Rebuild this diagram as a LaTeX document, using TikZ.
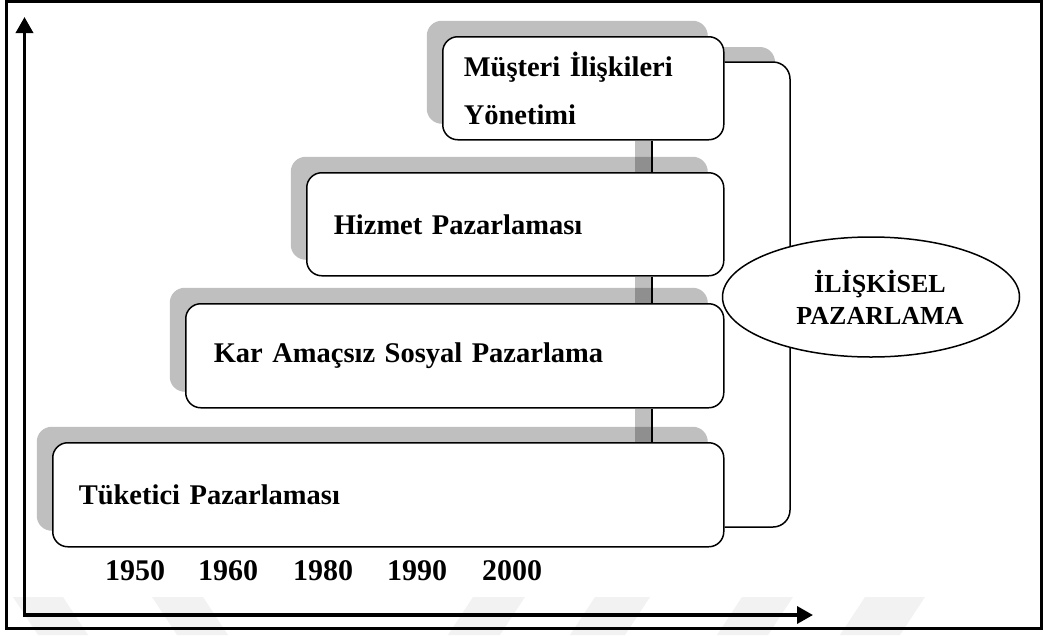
\documentclass[tikz,border=0pt]{standalone}
\usepackage{fontspec}
\setmainfont{Liberation Serif}[BoldFont={Liberation Serif Bold}]
\usetikzlibrary{shapes.geometric, shadows, arrows.meta}
\begin{document}
\begin{tikzpicture}[x=1pt, y=-1pt,
  shadowfill/.style={fill=black, opacity=0.25},
  stage/.style={draw, line width=1.5pt, fill=white, rounded corners=15pt,
    anchor=north west, align=left, inner ysep=0pt,
    font=\bfseries\fontsize{28.5}{48}\selectfont,
    general shadow={shadowfill, shadow xshift=-16pt, shadow yshift=16pt}},
  link/.style={line width=1.5pt},
  linkshadow/.style={draw=black, opacity=0.25, line width=17pt},
  axis/.style={line width=3.5pt,
    {Triangle[length=16pt,width=17pt]}-{Triangle[length=16pt,width=17pt]}},
  year/.style={anchor=base west, inner sep=0pt,
    font=\bfseries\fontsize{30}{36}\selectfont},
  watermark/.style={fill=black!5}]

\useasboundingbox (0,0) rectangle (1044,635);

% faint marks along the bottom edge
\fill[watermark] (13,597) -- (63,597) -- (88,635) -- (38,635) -- cycle;
\fill[watermark] (152,597) -- (203,597) -- (228,635) -- (177,635) -- cycle;
\fill[watermark] (473,597) -- (525,597) -- (500,635) -- (448,635) -- cycle;
\fill[watermark] (595,597) -- (650,597) -- (625,635) -- (570,635) -- cycle;
\fill[watermark] (742,597) -- (793,597) -- (768,635) -- (717,635) -- cycle;
\fill[watermark] (865,597) -- (925,597) -- (900,635) -- (840,635) -- cycle;

% outer frame
\draw[line width=3pt] (6.5,1.5) rectangle (1041.5,628.5);

% time axes
\coordinate (origin) at (24.5,615);
\coordinate (ytip) at (24.5,17);
\coordinate (xtip) at (813,615);
\draw[axis] (ytip) -- (origin) -- (xtip);

% shadow of the right-hand bracket
\fill[shadowfill, rounded corners=15pt] (708,47) rectangle (775,95);
\fill[white] (708,62) rectangle (790,110);

% spine shared by the stage connectors
\coordinate (spine) at (652,0);
\coordinate (spineshadow) at (643,0);

% stages
\node[stage, text width=239pt, inner xsep=21pt, minimum height=103pt]
  (miy) at (442,36) {Müşteri İlişkileri\\Yönetimi};
\node[stage, text width=363pt, inner xsep=27pt, minimum height=103pt]
  (hiz) at (306,172) {Hizmet Pazarlaması};
\node[stage, text width=482pt, inner xsep=28pt, minimum height=104pt]
  (kar) at (185,303) {Kar Amaçsız Sosyal Pazarlama};
\node[stage, text width=619pt, inner xsep=26pt, minimum height=104pt]
  (tuk) at (52,442) {Tüketici Pazarlaması};

% connectors between stages
\draw[linkshadow] (miy.south -| spineshadow) -- (hiz.north -| spineshadow);
\draw[linkshadow] (hiz.south -| spineshadow) -- (kar.north -| spineshadow);
\draw[linkshadow] (kar.south -| spineshadow) -- (tuk.north -| spineshadow);
\draw[link] (miy.south -| spine) -- (hiz.north -| spine);
\draw[link] (hiz.south -| spine) -- (kar.north -| spine);
\draw[link] (kar.south -| spine) -- (tuk.north -| spine);

% bracket grouping all stages
\coordinate (brtop) at (790,62);
\coordinate (brbot) at (790,527);
\draw[link, rounded corners=17pt] (miy.east |- brtop) -- (brtop) -- (brbot) -- (tuk.east |- brbot);

\node[ellipse, draw, line width=1.5pt, fill=white, minimum width=297pt,
  minimum height=120pt, inner sep=0pt] (rel) at (871,297) {};
\node[align=center, inner sep=0pt, font=\bfseries\fontsize{26}{32}\selectfont]
  (reltext) at ([xshift=9pt]rel.center) {İLİŞKİSEL\\PAZARLAMA};

% years
\node[year] (y1950) at (105,580) {1950};
\node[year] (y1960) at (198,580) {1960};
\node[year] (y1980) at (293,580) {1980};
\node[year] (y1990) at (387,580) {1990};
\node[year] (y2000) at (482,580) {2000};
\end{tikzpicture}
\end{document}
